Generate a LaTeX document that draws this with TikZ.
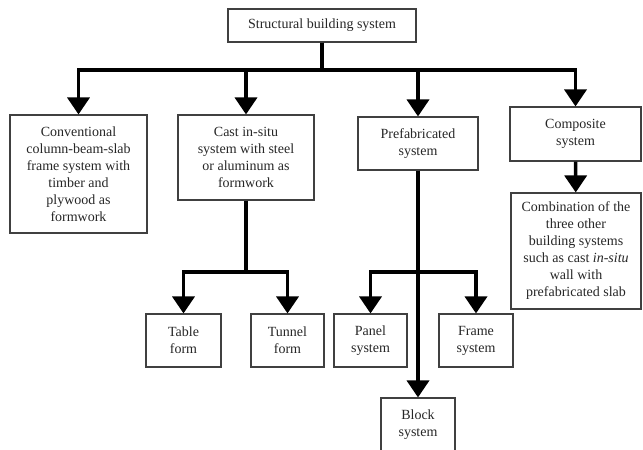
\documentclass[tikz,border=0pt]{standalone}
\usepackage{fontspec}
\setmainfont{Liberation Serif}
\usepackage{tikz}
\usetikzlibrary{arrows.meta,calc,positioning}

\begin{document}
\begin{tikzpicture}[x=1pt,y=-1pt]
	\tikzstyle{every node} = [draw = black!75, line width = 1.1pt, align = center, inner sep = 0pt, text = black!85, font = \fontsize{14}{17}\selectfont]
	\tikzstyle{arr} = [line width = 3.6pt, -{Triangle[width=22pt,length=17pt]}]
\useasboundingbox (0,0) rectangle (643,450);
\node[minimum width = 188, minimum height = 33] (sbs) at (322, 25.5) {Structural building system};
\node[minimum width = 137, minimum height = 118] (conv) at (78.5, 174) {Conventional\\column-beam-slab\\frame system with\\timber and\\plywood as\\formwork};
\node[minimum width = 136, minimum height = 85] (cast) at (246, 157.5) {Cast in-situ\\system with steel\\or aluminum as\\formwork};
\node[minimum width = 120, minimum height = 53] (prefab) at (418, 143.5) {Prefabricated\\system};
\node[minimum width = 131, minimum height = 54] (comp) at (575.5, 134) {Composite\\system};
\node[minimum width = 130, minimum height = 116] (combi) at (576, 251) {Combination of the\\three other\\building systems\\such as cast \textit{in-situ}\\wall with\\prefabricated slab};
\node[minimum width = 75, minimum height = 53] (table) at (183.5, 340.5) {Table\\form};
\node[minimum width = 73, minimum height = 53] (tunnel) at (287.5, 340.5) {Tunnel\\form};
\node[minimum width = 73, minimum height = 53] (panel) at (370.5, 340.5) {Panel\\system};
\node[minimum width = 74, minimum height = 53] (frame) at (476, 340.5) {Frame\\system};
\node[minimum width = 74, minimum height = 54] (block) at (418, 425) {Block\\system};
\coordinate (bar) at (0, 70);
\coordinate (sub) at (0, 272);
	\foreach \n in {conv, cast, prefab, comp}
		\path[draw][arr] (sbs.south) -- (sbs.south |- bar) -| (\n.north);
	\path[draw][arr] (comp) -- (combi);
	\path[draw][arr] (cast.south) -- (cast.south |- sub) -| (table.north);
	\path[draw][arr] (cast.south) -- (cast.south |- sub) -| (tunnel.north);
	\path[draw][arr] (prefab.south) -- (prefab.south |- sub) -| (panel.north);
	\path[draw][arr] (prefab.south) -- (prefab.south |- sub) -| (frame.north);
	\path[draw][arr] (prefab) -- (block);
    \end{tikzpicture}
\end{document}
